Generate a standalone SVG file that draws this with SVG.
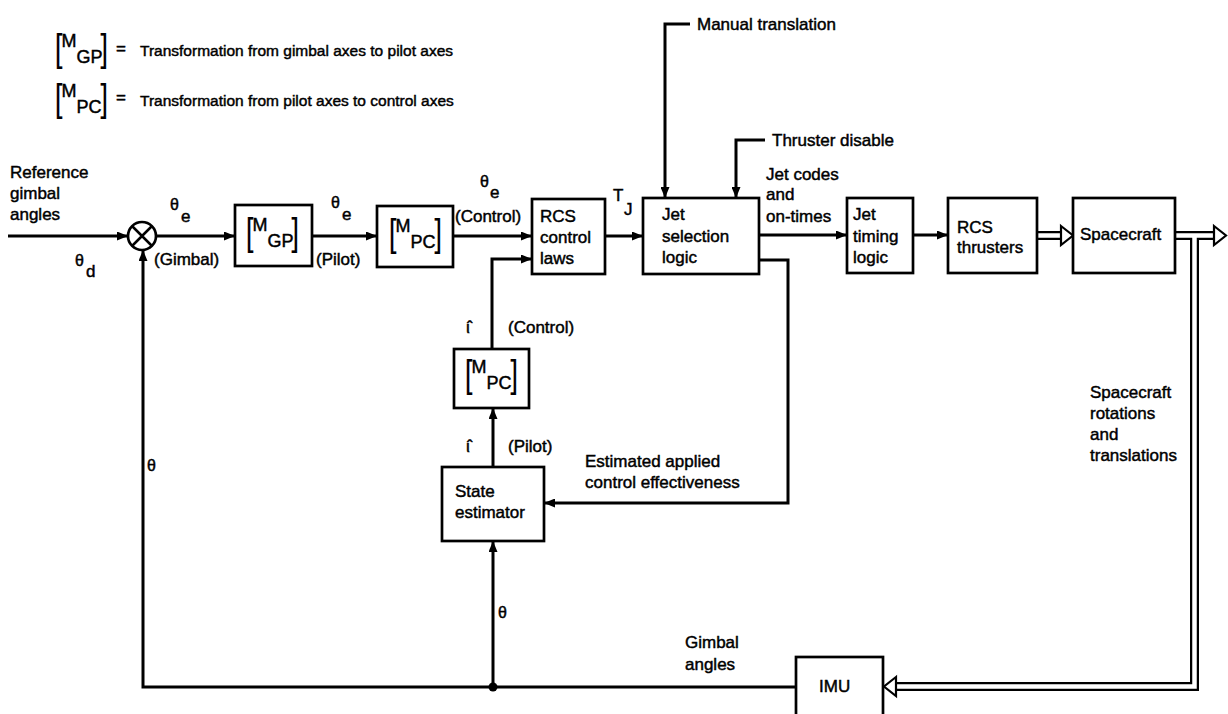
<svg xmlns="http://www.w3.org/2000/svg" width="1228" height="714" viewBox="0 0 1228 714">
<defs>
<marker id="ah" markerUnits="userSpaceOnUse" markerWidth="12" markerHeight="9" refX="11" refY="4.5" orient="auto"><path d="M0,0 L11,4.5 L0,9 z" fill="#000"/></marker>
<g id="mat-gp">
<text class="br" transform="translate(0,28) scale(0.7,1)">[</text><text class="m" x="6.5" y="14">M</text><text class="m" x="21.5" y="30">GP</text><text class="br" transform="translate(45.5,28) scale(0.7,1)">]</text>
</g>
<g id="mat-pc">
<text class="br" transform="translate(0,28) scale(0.7,1)">[</text><text class="m" x="6.5" y="14">M</text><text class="m" x="21.5" y="30">PC</text><text class="br" transform="translate(45.5,28) scale(0.7,1)">]</text>
</g>
</defs>
<style>
text{font-family:"Liberation Sans",Arial,sans-serif;fill:#000;stroke:#000;stroke-width:0.45}
.t{font-size:17px}
.m{font-size:18px}
.s{font-size:16px}
.lg{font-size:15.5px}
.br{font-size:38px;stroke-width:0.2}
.box{fill:#fff;stroke:#000;stroke-width:2.7}
.ln{fill:none;stroke:#000;stroke-width:3}
.dk{fill:none;stroke:#000;stroke-width:9;stroke-linejoin:miter}
.dw{fill:none;stroke:#fff;stroke-width:4.5;stroke-linejoin:miter}
.ha{fill:#fff;stroke:#000;stroke-width:2.2;stroke-linejoin:miter}
</style>
<rect width="1228" height="714" fill="#fff"/>

<g id="legend">
<use href="#mat-gp" x="55" y="33"/>
<text class="t" x="116" y="54">=</text>
<text class="lg" x="140" y="56">Transformation from gimbal axes to pilot axes</text>
<use href="#mat-pc" x="55" y="83"/>
<text class="t" x="116" y="103">=</text>
<text class="lg" x="140" y="106">Transformation from pilot axes to control axes</text>
</g>

<g id="connectors">
<path class="ln" d="M8,236 H128" marker-end="url(#ah)"/>
<path class="ln" d="M156,236 H235" marker-end="url(#ah)"/>
<path class="ln" d="M312,236 H377" marker-end="url(#ah)"/>
<path class="ln" d="M453,236 H532" marker-end="url(#ah)"/>
<path class="ln" d="M605,236 H643" marker-end="url(#ah)"/>
<path class="ln" d="M759,235 H847" marker-end="url(#ah)"/>
<path class="ln" d="M913,235 H948" marker-end="url(#ah)"/>
<path class="ln" d="M690,24 H665 V198" marker-end="url(#ah)"/>
<path class="ln" d="M765,140 H736 V198" marker-end="url(#ah)"/>
<path class="ln" d="M759,260 H788 V503 H544" marker-end="url(#ah)"/>
<path class="ln" d="M796,687 H143 V250" marker-end="url(#ah)"/>
<path class="ln" d="M493,687 V541" marker-end="url(#ah)"/>
<path class="ln" d="M493,467 V408" marker-end="url(#ah)"/>
<path class="ln" d="M492,349 V259 H532" marker-end="url(#ah)"/>
<circle cx="493" cy="687" r="4.5" fill="#000"/>
<path class="dk" d="M1037,235.5 H1064"/>
<path class="dk" d="M1175,235.5 H1216 M1194.5,235.5 V686.5 H896"/>
<path class="dw" d="M1037,235.5 H1064"/>
<path class="dw" d="M1175,235.5 H1216 M1194.5,235.5 V686.5 H896"/>
<polygon class="ha" points="1061,226 1073,235.5 1061,245"/>
<polygon class="ha" points="1214,226 1226,235.5 1214,245"/>
<polygon class="ha" points="896,677 884,686.5 896,696"/>
</g>

<g id="labels">
<text class="t" x="10" y="178">Reference</text>
<text class="t" x="10" y="199">gimbal</text>
<text class="t" x="10" y="220">angles</text>
<text class="s" x="75" y="266">θ</text><text class="t" x="86" y="277">d</text>
<text class="s" x="170" y="210">θ</text><text class="t" x="181" y="222">e</text>
<text class="t" x="154" y="265">(Gimbal)</text>
<text class="s" x="331" y="208">θ</text><text class="t" x="342" y="220">e</text>
<text class="t" x="316" y="265">(Pilot)</text>
<text class="s" x="480" y="187">θ</text><text class="t" x="490" y="198">e</text>
<text class="t" x="455" y="222">(Control)</text>
<text class="t" x="613" y="201">T</text><text class="t" x="624" y="215">J</text>
<text class="t" x="697" y="30">Manual translation</text>
<text class="t" x="772" y="146">Thruster disable</text>
<text class="t" x="766" y="180">Jet codes</text>
<text class="t" x="766" y="200">and</text>
<text class="t" x="766" y="222">on-times</text>
<text class="t" x="466" y="333">ι̂</text><text class="t" x="508" y="333">(Control)</text>
<text class="t" x="466" y="452">ι̂</text><text class="t" x="508" y="452">(Pilot)</text>
<text class="t" x="585" y="467">Estimated applied</text>
<text class="t" x="585" y="488">control effectiveness</text>
<text class="s" x="147" y="471">θ</text>
<text class="s" x="498" y="618">θ</text>
<text class="t" x="685" y="648">Gimbal</text>
<text class="t" x="685" y="670">angles</text>
<text class="t" x="1090" y="398">Spacecraft</text>
<text class="t" x="1090" y="419">rotations</text>
<text class="t" x="1090" y="440">and</text>
<text class="t" x="1090" y="461">translations</text>
</g>

<g id="sum">
<circle cx="142" cy="236" r="14" class="box"/>
<path d="M132,226 L152,246 M152,226 L132,246" fill="none" stroke="#000" stroke-width="2.5"/>
</g>
<g id="mgp">
<rect class="box" x="235" y="205" width="77" height="61"/>
<use href="#mat-gp" x="246" y="217"/>
</g>
<g id="mpc">
<rect class="box" x="377" y="206" width="76" height="61"/>
<use href="#mat-pc" x="389" y="218"/>
</g>
<g id="rcs-laws">
<rect class="box" x="532" y="199" width="73" height="75"/>
<text class="t" x="540" y="222">RCS</text>
<text class="t" x="540" y="243">control</text>
<text class="t" x="540" y="264">laws</text>
</g>
<g id="jet-select">
<rect class="box" x="643" y="198" width="116" height="76"/>
<text class="t" x="662" y="220">Jet</text>
<text class="t" x="662" y="242">selection</text>
<text class="t" x="662" y="263">logic</text>
</g>
<g id="jet-timing">
<rect class="box" x="847" y="198" width="66" height="75"/>
<text class="t" x="853" y="220">Jet</text>
<text class="t" x="853" y="242">timing</text>
<text class="t" x="853" y="263">logic</text>
</g>
<g id="rcs-thrusters">
<rect class="box" x="948" y="198" width="89" height="75"/>
<text class="t" x="957" y="233">RCS</text>
<text class="t" x="957" y="253">thrusters</text>
</g>
<g id="spacecraft">
<rect class="box" x="1073" y="198" width="102" height="75"/>
<text class="t" x="1080" y="240">Spacecraft</text>
</g>
<g id="mpc2">
<rect class="box" x="454" y="349" width="75" height="59"/>
<use href="#mat-pc" x="465" y="359"/>
</g>
<g id="state-estimator">
<rect class="box" x="442" y="467" width="102" height="74"/>
<text class="t" x="455" y="497">State</text>
<text class="t" x="455" y="518">estimator</text>
</g>
<g id="imu">
<rect class="box" x="796" y="657" width="87" height="70"/>
<text class="t" x="819" y="692">IMU</text>
</g>
</svg>
